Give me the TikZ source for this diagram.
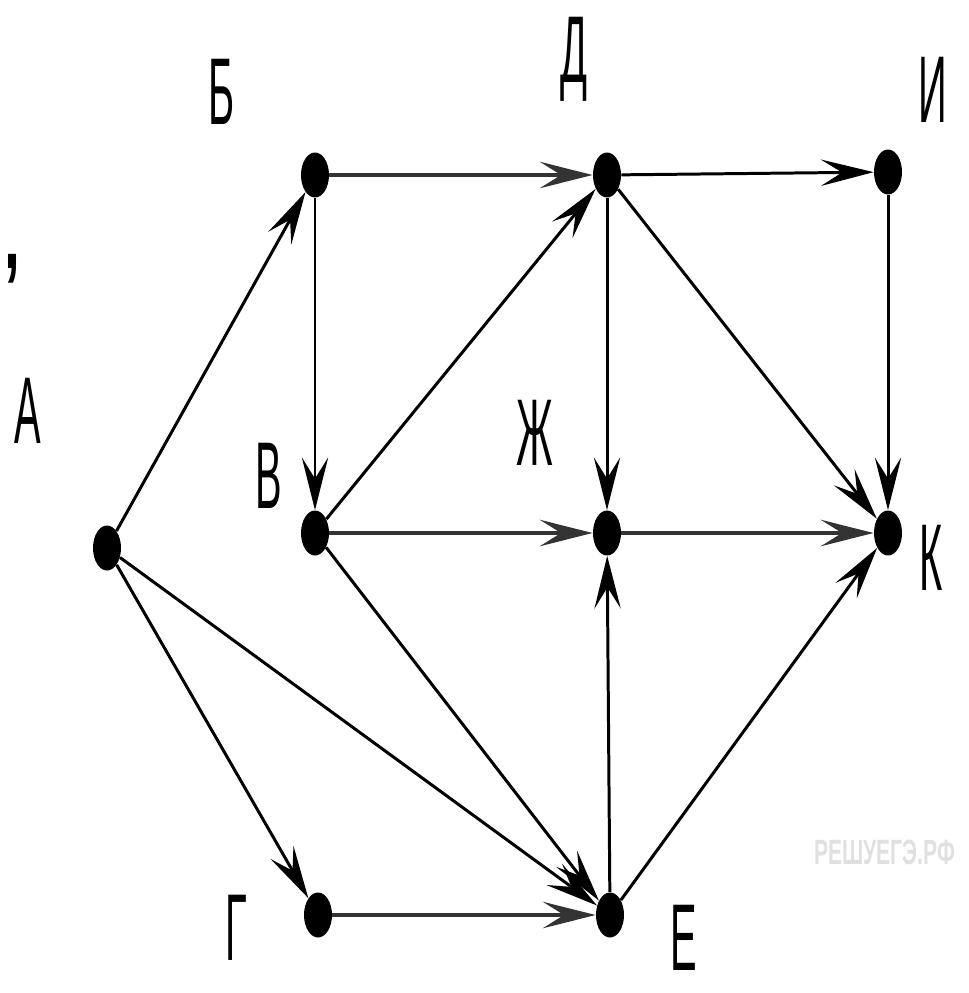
\documentclass[tikz,border=0pt]{standalone}
\usepackage{fontspec}
\setmainfont{Liberation Sans}
\usepackage{graphicx}
\usetikzlibrary{arrows.meta,shapes.geometric}
\newcommand{\narrow}[1]{\scalebox{0.42}[1]{#1}}

\begin{document}
\begin{tikzpicture}[x=0.02cm, y=-0.02cm,
  dot/.style={ellipse, fill, inner sep=0pt, minimum width=0.56cm, minimum height=0.9cm},
  lbl/.style={anchor=base, inner sep=0pt, font=\fontsize{54}{60}\selectfont},
  arr/.style={-{Stealth[length=30pt, width=15pt, inset=12pt]}, line width=1.7pt},
  heavy/.style={arr, line width=2.6pt, black!80}
]
\useasboundingbox (0,0) rectangle (969,993);

\node[dot] (A) at (107,548) {};
\node[dot] (B) at (315,175) {};
\node[dot] (D) at (607,175) {};
\node[dot] (I) at (888,172) {};
\node[dot] (V) at (315,533) {};
\node[dot] (Zh) at (607,533) {};
\node[dot] (K) at (888,533) {};
\node[dot] (G) at (318,915) {};
\node[dot] (E) at (610,915) {};

\node[lbl] (lA) at (28,443) {\narrow{А}};
\node[lbl] (lB) at (222,125) {\narrow{Б}};
\node[lbl] (lD) at (574,83) {\narrow{Д}};
\node[lbl] (lI) at (933,123) {\narrow{И}};
\node[lbl] (lV) at (269,508) {\narrow{В}};
\node[lbl] (lZh) at (535,465) {\narrow{Ж}};
\node[lbl] (lK) at (931,590) {\narrow{К}};
\node[lbl] (lG) at (236,960) {\narrow{Г}};
\node[lbl] (lE) at (684,970) {\narrow{Е}};
\node[lbl] (comma) at (12,268) {\scalebox{0.6}[1]{\bfseries ,}};
\node[inner sep=0pt, font=\fontsize{20}{24}\selectfont\bfseries, text=black!12] (wm) at (885,852) {\scalebox{0.6}[1]{РЕШУЕГЭ.РФ}};

\draw[arr] (A) -- (B);
\draw[arr] (A) -- (G);
\draw[arr] (A) -- (E);
\draw[heavy] (B) -- (D);
\draw[arr] (B) -- (V);
\draw[arr] (V) -- (D);
\draw[heavy] (V) -- (Zh);
\draw[arr] (V) -- (E);
\draw[arr] (D) -- (I);
\draw[arr] (D) -- (Zh);
\draw[arr] (D) -- (K);
\draw[arr] (I) -- (K);
\draw[heavy] (Zh) -- (K);
\draw[heavy] (G) -- (E);
\draw[arr] (E) -- (Zh);
\draw[arr] (E) -- (K);
\end{tikzpicture}
\end{document}
